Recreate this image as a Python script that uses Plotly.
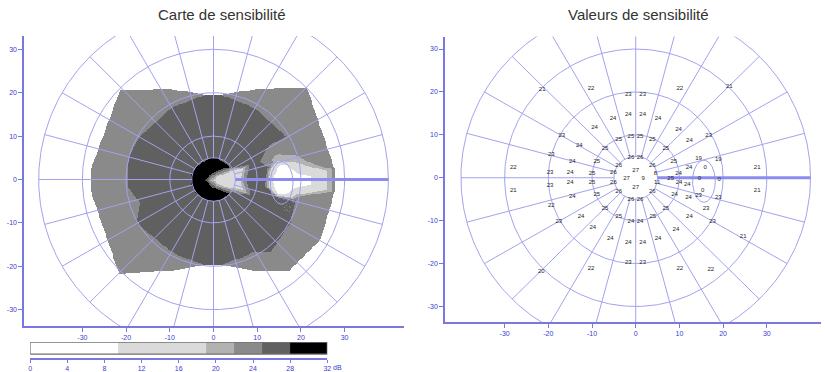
import numpy as np
import plotly.graph_objects as go

# ---------------- data: test points (deg) and sensitivity (dB) ----------------
PT_X = [-21.4, -10.2, -1.7, 1.6, 10.1, 21.4, -5.2, -1.7, 1.6, 5.1, -9.4, 9.8, -16.9, 16.7, 12.3, -12.9,
        -3.9, -1.1, 1.0, 3.8, -7.0, 6.9, -19.3, -1.1, 1.0, -3.9, 3.8, -14.5, -8.9, 8.7, 14.4, 18.9,
        15.9, 12.2, -28.0, 27.8, -19.6, -15.0, -10.0, -5.1, 0.0, -2.1, 1.7, 4.5, 9.8, 8.0, 14.6, 19.1,
        -19.6, -15.0, -10.0, -5.1, 0.0, 4.9, 9.9, 11.8, -28.0, 27.8, 15.3, -3.9, 3.8, -14.5, -8.9, 8.9,
        12.1, 14.4, 18.9, -1.1, 1.0, -19.3, -7.0, 6.9, 16.1, -12.5, -3.9, 3.9, -1.1, 1.0, -17.6, 17.6,
        12.3, -9.8, 9.2, 24.6, -5.8, 5.1, -1.7, 1.6, -1.7, 1.6, -10.2, 10.1, 17.2, -21.6]
PT_Y = [20.6, 20.9, 19.5, 19.5, 20.9, 21.2, 13.7, 14.7, 14.7, 13.7, 11.8, 11.2, 9.8, 9.8, 8.6, 7.5,
        8.8, 9.7, 9.7, 8.8, 6.8, 6.8, 5.4, 4.8, 4.8, 2.9, 2.9, 3.8, 3.7, 3.7, 4.5, 4.3,
        2.5, 2.4, 2.4, 2.4, 1.3, 1.3, 0.9, 1.2, 1.8, -0.2, -0.2, 1.0, 0.9, -0.2, -0.2, -0.4,
        -1.8, -1.2, -1.2, -1.2, -2.2, -1.2, -1.2, -1.6, -2.9, -2.9, -2.9, -3.3, -3.3, -4.3, -4.0, -4.0,
        -4.7, -4.1, -4.7, -5.1, -5.1, -6.4, -7.1, -7.1, -7.1, -9.0, -9.1, -9.1, -10.2, -10.2, -10.2, -10.2,
        -9.0, -11.6, -12.1, -13.8, -14.1, -14.1, -15.1, -15.1, -19.8, -19.8, -21.2, -21.2, -21.3, -21.9]
PT_VAL = [21, 22, 23, 23, 22, 21, 24, 24, 24, 24, 24, 24, 23, 23, 24, 24,
          25, 25, 25, 25, 25, 25, 23, 26, 26, 26, 26, 24, 25, 25, 19, 19,
          0, 24, 22, 21, 23, 24, 25, 26, 27, 27, 9, 8, 24, 25, 0, 0,
          23, 24, 25, 26, 27, 11, 24, 24, 21, 21, 0, 26, 26, 24, 25, 24,
          24, 23, 23, 26, 26, 22, 25, 25, 23, 24, 25, 25, 24, 24, 23, 23,
          24, 24, 24, 21, 24, 24, 24, 24, 23, 23, 22, 22, 22, 20]

# ---------------- grid / scale definitions ----------------
GRID_RADII = [5, 10, 20, 30, 40]
MERIDIANS = list(range(0, 360, 15))
SPOKE_R = (5, 40)
BLIND_CENTER = (15.6, -0.8)
BLIND_AXES = (2.6, 4.9)
MARKER_X = [5, 40]
MARKER_Y = [0, 0]
AXIS_TICKS = [-30, -20, -10, 0, 10, 20, 30]
AXIS_TICK_TEXT = ["-30", "-20", "-10", "0", "10", "20", "30"]

LEGEND_EDGES = [0, 9.5, 19, 22, 25, 28, 32]
LEGEND_TICKS = [0, 4, 8, 12, 16, 20, 24, 28, 32]
MAP_EDGES = [7.5, 17, 20, 23, 26]
GRAYS = ["#ffffff", "#dadada", "#b2b2b2", "#8a8a8a", "#606060", "#000000"]

GRID_COL = "#a2a2ee"
MARK_COL = "#8c8cf0"
AXIS_COL = "#7878e0"
TICK_COL = "#3c3cd0"
FONT = "Liberation Sans"


# ---------------- Delaunay triangulation (Bowyer-Watson) ----------------
def circum(a, b, c):
    ax, ay = a
    bx, by = b
    cx, cy = c
    d = 2 * (ax * (by - cy) + bx * (cy - ay) + cx * (ay - by))
    if abs(d) < 1e-12:
        return 0.0, 0.0, float("inf")
    ux = ((ax * ax + ay * ay) * (by - cy) + (bx * bx + by * by) * (cy - ay) + (cx * cx + cy * cy) * (ay - by)) / d
    uy = ((ax * ax + ay * ay) * (cx - bx) + (bx * bx + by * by) * (ax - cx) + (cx * cx + cy * cy) * (bx - ax)) / d
    return ux, uy, (ax - ux) ** 2 + (ay - uy) ** 2


def delaunay(points):
    n = len(points)
    S = 1e5
    P = list(points) + [(-S, -S), (S, -S), (0.0, S)]
    tris = [(n, n + 1, n + 2)]
    cache = {}
    for i in range(n):
        px, py = P[i]
        bad = []
        for t in tris:
            if t not in cache:
                cache[t] = circum(P[t[0]], P[t[1]], P[t[2]])
            ux, uy, r2 = cache[t]
            if (px - ux) ** 2 + (py - uy) ** 2 < r2 * (1 - 1e-12) - 1e-9:
                bad.append(t)
        cnt = {}
        for t in bad:
            for e in ((t[0], t[1]), (t[1], t[2]), (t[2], t[0])):
                k = tuple(sorted(e))
                cnt[k] = cnt.get(k, 0) + 1
        badset = set(bad)
        tris = [t for t in tris if t not in badset]
        for (a, b), c in cnt.items():
            if c == 1:
                tris.append((a, b, i))
    return [t for t in tris if max(t) < n]


pts = list(zip(PT_X, PT_Y))
vals = np.array(PT_VAL, dtype=float)
tris = delaunay(pts)
tris = [t for t in tris if np.sqrt(circum(pts[t[0]], pts[t[1]], pts[t[2]])[2]) < 15]

gx = np.arange(-29.0, 29.01, 0.2)
gy = np.arange(-23.0, 23.01, 0.2)
Z = np.full((len(gy), len(gx)), np.nan)
for (i, j, k) in tris:
    (x1, y1), (x2, y2), (x3, y3) = pts[i], pts[j], pts[k]
    det = (y2 - y3) * (x1 - x3) + (x3 - x2) * (y1 - y3)
    if abs(det) < 1e-12:
        continue
    ci = np.where((gx >= min(x1, x2, x3) - 1e-9) & (gx <= max(x1, x2, x3) + 1e-9))[0]
    ri = np.where((gy >= min(y1, y2, y3) - 1e-9) & (gy <= max(y1, y2, y3) + 1e-9))[0]
    if len(ci) == 0 or len(ri) == 0:
        continue
    X, Y = np.meshgrid(gx[ci], gy[ri])
    l1 = ((y2 - y3) * (X - x3) + (x3 - x2) * (Y - y3)) / det
    l2 = ((y3 - y1) * (X - x3) + (x1 - x3) * (Y - y3)) / det
    l3 = 1 - l1 - l2
    inside = (l1 >= -1e-9) & (l2 >= -1e-9) & (l3 >= -1e-9)
    v = l1 * vals[i] + l2 * vals[j] + l3 * vals[k]
    sub = Z[np.ix_(ri, ci)]
    sub[inside] = v[inside]
    Z[np.ix_(ri, ci)] = sub

cls = np.digitize(np.nan_to_num(Z, nan=0.0), MAP_EDGES).astype(float)
cls[np.isnan(Z)] = np.nan

scale = []
for k, c in enumerate(GRAYS):
    scale += [[k / len(GRAYS), c], [(k + 1) / len(GRAYS), c]]


# ---------------- polar grid geometry ----------------
def grid_traces(xa, ya):
    th = np.linspace(0, 2 * np.pi, 361)
    cx, cy = [], []
    for r in GRID_RADII:
        cx += list(r * np.cos(th)) + [None]
        cy += list(r * np.sin(th)) + [None]
    sx, sy = [], []
    for m in MERIDIANS:
        a = np.deg2rad(m)
        sx += [SPOKE_R[0] * np.cos(a), SPOKE_R[1] * np.cos(a), None]
        sy += [SPOKE_R[0] * np.sin(a), SPOKE_R[1] * np.sin(a), None]
    ex = BLIND_CENTER[0] + BLIND_AXES[0] * np.cos(th)
    ey = BLIND_CENTER[1] + BLIND_AXES[1] * np.sin(th)
    line = dict(color=GRID_COL, width=1)
    return [
        go.Scatter(x=cx, y=cy, mode="lines", line=line, xaxis=xa, yaxis=ya, hoverinfo="skip", showlegend=False),
        go.Scatter(x=sx, y=sy, mode="lines", line=line, xaxis=xa, yaxis=ya, hoverinfo="skip", showlegend=False),
        go.Scatter(x=ex, y=ey, mode="lines", line=line, xaxis=xa, yaxis=ya, hoverinfo="skip", showlegend=False),
        go.Scatter(x=MARKER_X, y=MARKER_Y, mode="lines", line=dict(color=MARK_COL, width=3),
                   xaxis=xa, yaxis=ya, hoverinfo="skip", showlegend=False),
    ]


fig = go.Figure()
fig.add_trace(go.Heatmap(x=gx, y=gy, z=cls, colorscale=scale, zmin=-0.5, zmax=len(GRAYS) - 0.5,
                         showscale=False, hoverinfo="skip", xaxis="x", yaxis="y"))
for t in grid_traces("x", "y"):
    fig.add_trace(t)
for t in grid_traces("x2", "y2"):
    fig.add_trace(t)
fig.add_trace(go.Scatter(x=PT_X, y=PT_Y, mode="text", text=[str(v) for v in PT_VAL],
                         textfont=dict(family=FONT, size=6, color="#1e1e1e"),
                         xaxis="x2", yaxis="y2", hoverinfo="skip", showlegend=False))

# legend strip
fig.add_trace(go.Heatmap(x=LEGEND_EDGES, y=[4, 16], z=[list(range(len(GRAYS)))], colorscale=scale,
                         zmin=-0.5, zmax=len(GRAYS) - 0.5, showscale=False, hoverinfo="skip",
                         xaxis="x3", yaxis="y3"))
lx0, lx1 = LEGEND_EDGES[0], LEGEND_EDGES[-1]
fig.add_trace(go.Scatter(x=[lx0, lx1, lx1, lx0, lx0], y=[4, 4, 16, 16, 4], mode="lines",
                         line=dict(color="#707070", width=1.2), xaxis="x3", yaxis="y3",
                         hoverinfo="skip", showlegend=False))

W, H = 825, 372


def ax(**kw):
    d = dict(showgrid=False, zeroline=False, showline=True, linecolor=AXIS_COL, linewidth=1.5,
             ticks="outside", ticklen=4, tickcolor=AXIS_COL, tickwidth=1,
             tickfont=dict(family=FONT, size=7, color=TICK_COL), fixedrange=True)
    d.update(kw)
    return d


fig.update_layout(
    width=W, height=H, margin=dict(l=0, r=0, t=0, b=0),
    paper_bgcolor="white", plot_bgcolor="white", showlegend=False,
    xaxis=ax(domain=[22 / W, 405 / W], range=[-43.4, 43.6], anchor="y",
             tickvals=AXIS_TICKS, ticktext=AXIS_TICK_TEXT),
    yaxis=ax(domain=[(H - 327) / H, (H - 36) / H], range=[-33.8, 33.1], anchor="x",
             tickvals=AXIS_TICKS, ticktext=AXIS_TICK_TEXT),
    xaxis2=ax(domain=[446 / W, 1.0], range=[-43.7, 42.4], anchor="y2",
              tickvals=AXIS_TICKS, ticktext=AXIS_TICK_TEXT),
    yaxis2=ax(domain=[(H - 323) / H, (H - 36.7) / H], range=[-33.65, 32.9], anchor="x2",
              tickvals=AXIS_TICKS, ticktext=AXIS_TICK_TEXT),
    xaxis3=ax(domain=[28.3 / W, 327.7 / W], range=[0, 32], anchor="y3", tickvals=LEGEND_TICKS,
              ticktext=[str(v) for v in LEGEND_TICKS], ticklen=3),
    yaxis3=dict(domain=[(H - 359) / H, (H - 343) / H], range=[0, 16], visible=False, fixedrange=True),
    annotations=[
        dict(text="Carte de sensibilité", x=222 / W, y=(H - 15) / H, xref="paper", yref="paper",
             xanchor="center", yanchor="middle",
             showarrow=False, font=dict(family=FONT, size=15, color="#333333")),
        dict(text="Valeurs de sensibilité", x=641 / W, y=(H - 15) / H, xref="paper", yref="paper",
             xanchor="center", yanchor="middle",
             showarrow=False, font=dict(family=FONT, size=15, color="#333333")),
        dict(text="dB", x=32, y=0, xref="x3", yref="y3", xanchor="left", yanchor="top", xshift=4, yshift=-4,
             showarrow=False, font=dict(family=FONT, size=7, color=TICK_COL)),
    ],
)

fig.write_html("out.html", config={"displayModeBar": False, "staticPlot": True},
               post_script="document.body.style.margin='0px';document.body.style.padding='0px';"
                           "document.body.style.overflow='hidden';")
